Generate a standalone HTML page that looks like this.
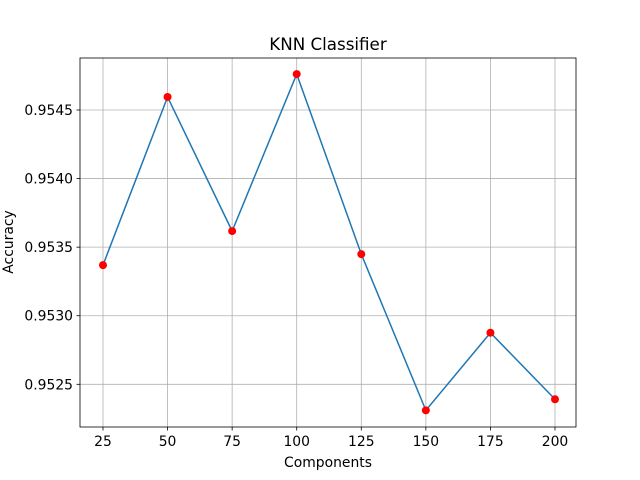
<!DOCTYPE html>
<html><head><meta charset="utf-8"><style>
body{margin:0;background:#fff}
svg{display:block;font-family:"DejaVu Sans","Liberation Sans",sans-serif}
</style></head><body>
<svg id="chart" width="640" height="480">
<rect width="640" height="480" fill="#fff"/>
<g id="grid"></g>
<g id="ticks"></g>
<polyline id="line" fill="none" stroke="#1f77b4" stroke-width="1.5"/>
<g id="points"></g>
<rect x="80" y="58" width="496" height="369" fill="none" stroke="#000" stroke-width="0.8"/>
<text x="328" y="50" font-size="16.7" text-anchor="middle">KNN Classifier</text>
<text x="328" y="467" font-size="13.9" text-anchor="middle">Components</text>
<text transform="translate(13,242) rotate(-90)" font-size="13.9" text-anchor="middle">Accuracy</text>
</svg>
<script>
const components=[25,50,75,100,125,150,175,200];
const accuracy=[0.953369,0.954595,0.953617,0.954762,0.953449,0.952310,0.952876,0.952391];
const xTicks=[25,50,75,100,125,150,175,200];
const yTicks=[0.9525,0.9530,0.9535,0.9540,0.9545];
const yTickLabels=["0.9525","0.9530","0.9535","0.9540","0.9545"];
const NS="http://www.w3.org/2000/svg";
function xs(v){return 103+(v-25)*(555-103)/175;}
function ys(v){return 384.3-(v-0.9525)*137.15/0.001;}
function mk(tag,attrs,parent){const e=document.createElementNS(NS,tag);for(const k in attrs)e.setAttribute(k,attrs[k]);document.getElementById(parent).appendChild(e);return e;}
xTicks.forEach(t=>{const x=xs(t);
 const g=mk('line',{x1:x,x2:x,y1:58,y2:427,stroke:'#b0b0b0','stroke-width':0.8},'grid');
 
 
 mk('line',{x1:x,x2:x,y1:427,y2:430.5,stroke:'#000','stroke-width':0.8},'ticks');
 const tx=mk('text',{x:x,y:446,'font-size':13.9,'text-anchor':'middle'},'ticks');tx.textContent=t;
 
 
});
yTicks.forEach((t,i)=>{const y=ys(t);
 const g=mk('line',{x1:80,x2:576,y1:y,y2:y,stroke:'#b0b0b0','stroke-width':0.8},'grid');
 
 
 mk('line',{x1:76.5,x2:80,y1:y,y2:y,stroke:'#000','stroke-width':0.8},'ticks');
 const tx=mk('text',{x:73,y:y+5,'font-size':13.9,'text-anchor':'end'},'ticks');tx.textContent=yTickLabels[i];
 
 
});
document.getElementById('line').setAttribute('points',components.map((c,i)=>xs(c)+','+ys(accuracy[i])).join(' '));
components.forEach((c,i)=>{
 const p=mk('circle',{cx:xs(c),cy:ys(accuracy[i]),r:4,fill:'#ff0000'},'points');
 
 
});
</script>
</body></html>
